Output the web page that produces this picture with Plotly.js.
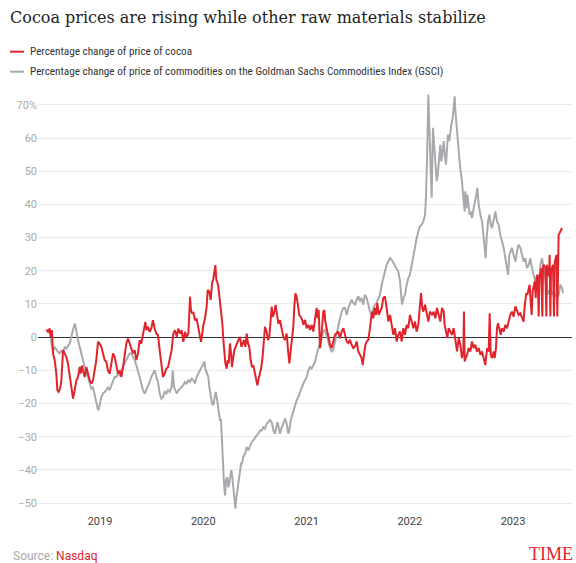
<!DOCTYPE html>
<html>
<head>
<meta charset="utf-8">
<script src="https://cdn.plot.ly/plotly-3.0.1.min.js"></script>
<style>
  html, body { margin: 0; padding: 0; background: #fff; }
  #chart { width: 576px; height: 563px; }
</style>
</head>
<body>
<div id="chart"></div>
<script>
// ---- Data (decimal years, % change) ----
const cocoaX = [
  2018.480,2018.496,2018.513,2018.522,2018.535,2018.545,2018.561,2018.577,2018.587,2018.600,2018.613,2018.626,2018.642,2018.658,2018.674,2018.690,2018.706,2018.722,2018.739,2018.755,2018.771,2018.787,2018.803,2018.813,2018.826,2018.835,2018.852,2018.868,2018.884,2018.900,2018.916,2018.932,2018.948,2018.964,2018.981,2018.997,
  2019.013,2019.029,2019.045,2019.061,2019.077,2019.094,2019.110,2019.126,2019.142,2019.158,2019.174,2019.190,2019.207,2019.223,2019.239,2019.255,2019.271,2019.287,2019.303,2019.320,2019.336,2019.352,2019.368,2019.384,2019.400,2019.416,2019.433,2019.439,2019.449,2019.465,2019.481,2019.497,2019.513,2019.529,2019.546,2019.562,2019.578,2019.594,2019.610,2019.626,2019.642,2019.659,2019.675,
  2019.694,2019.710,2019.726,2019.743,2019.759,2019.775,2019.791,2019.807,2019.823,2019.839,2019.856,2019.865,2019.872,2019.881,2019.894,2019.904,2019.920,2019.936,2019.952,2019.969,2019.978,2019.991,
  2020.001,2020.017,2020.033,2020.043,2020.059,2020.072,2020.085,2020.098,2020.107,2020.117,2020.127,2020.136,2020.146,2020.162,2020.172,2020.185,2020.195,2020.204,2020.214,2020.227,2020.237,2020.246,2020.259,2020.269,2020.278,2020.291,2020.301,2020.314,2020.324,2020.340,2020.356,2020.369,2020.382,2020.395,2020.408,2020.421,2020.433,2020.446,2020.459,2020.472,2020.485,2020.501,2020.511,2020.524,2020.537,2020.550,2020.563,2020.575,2020.588,2020.598,2020.614,2020.627,2020.640,2020.653,2020.663,2020.672,2020.685,2020.701,2020.711,2020.727,2020.743,2020.760,2020.776,2020.792,2020.808,2020.821,2020.834,2020.847,2020.860,2020.872,2020.882,2020.892,2020.905,2020.918,2020.931,2020.944,2020.960,
  2020.969,2020.986,2021.002,2021.018,2021.034,2021.050,2021.066,2021.082,2021.098,2021.108,2021.118,2021.131,2021.140,2021.150,2021.163,2021.173,2021.182,2021.195,2021.211,2021.228,2021.244,2021.260,2021.276,2021.292,2021.308,2021.324,2021.341,2021.357,2021.373,2021.389,2021.405,2021.421,2021.437,2021.454,2021.470,2021.486,2021.502,2021.518,2021.534,2021.544,2021.557,2021.570,2021.583,2021.599,2021.615,2021.625,2021.634,2021.647,2021.660,2021.673,2021.686,2021.699,2021.712,2021.728,2021.744,2021.760,2021.776,2021.793,2021.809,2021.825,2021.841,2021.857,2021.873,2021.889,2021.906,2021.922,2021.938,2021.954,2021.970,2021.986,
  2022.002,2022.019,2022.035,2022.051,2022.067,2022.083,2022.099,2022.109,2022.122,2022.132,2022.148,2022.164,2022.180,2022.196,
  2022.216,2022.232,2022.248,2022.264,2022.280,2022.296,2022.312,2022.329,2022.338,2022.351,2022.364,2022.377,2022.393,2022.409,2022.425,2022.442,2022.458,2022.474,2022.490,2022.506,2022.519,2022.525,2022.532,2022.542,2022.555,2022.571,2022.587,2022.603,2022.619,2022.635,2022.651,2022.668,2022.684,2022.700,2022.716,2022.732,2022.742,2022.751,2022.764,2022.774,2022.784,2022.797,2022.813,2022.822,2022.835,2022.845,2022.855,2022.868,2022.881,2022.893,2022.910,2022.926,2022.942,2022.958,2022.974,2022.990,
  2023.006,2023.023,2023.039,2023.055,2023.071,2023.087,2023.103,2023.113,2023.119,2023.129,2023.139,2023.152,2023.161,2023.171,2023.181,2023.190,2023.200,2023.210,2023.220,2023.229,2023.239,2023.249,2023.255,2023.265,2023.274,2023.284,2023.291,2023.300,2023.313,2023.323,2023.329,2023.339,2023.349,2023.355,2023.362,2023.368,2023.378,2023.387,2023.397,2023.404,2023.413,2023.423,2023.429,2023.436,2023.442,2023.452,2023.462,2023.475
];
const cocoaPct = [
  2.3,1.6,2.6,0.1,2.1,-4.9,-6.9,-11.0,-16.0,-16.5,-15.5,-13.0,-3.9,-4.9,-5.9,-8.0,-11.0,-15.0,-18.5,-16.0,-13.0,-12.0,-9.0,-11.0,-8.5,-10.0,-12.0,-9.0,-11.0,-13.0,-14.0,-13.0,-10.0,-6.9,-1.4,-1.9,
  -2.9,-4.9,-6.9,-7.4,-10.0,-11.0,-7.9,-4.9,-5.9,-9.0,-11.0,-10.0,-12.0,-9.0,-5.9,-1.9,-0.4,-1.9,-3.4,-4.9,-3.9,-6.9,-4.9,-0.9,-1.9,1.1,4.1,4.6,2.1,3.1,1.6,2.6,5.1,2.6,1.1,0.6,-3.9,-7.9,-12.0,-11.0,-9.5,-9.0,-6.9,
  -3.9,1.1,2.1,0.1,2.6,1.1,2.1,-1.4,1.6,0.1,1.1,7.1,12.2,8.1,7.1,7.6,5.1,5.6,3.1,0.1,-1.4,1.1,
  3.6,5.6,9.2,14.2,13.7,11.2,16.2,17.7,19.2,21.7,17.2,16.7,15.2,11.2,7.1,4.1,-0.9,-3.9,-7.9,-9.5,-6.9,-7.9,-1.9,-4.9,-9.0,-5.9,-3.9,-2.9,-1.9,-0.9,0.1,-2.9,-1.9,-0.9,-2.9,1.1,-1.9,-2.9,-6.9,-9.0,-8.5,-11.0,-13.0,-14.5,-12.5,-11.0,-9.0,-5.9,-1.9,3.1,1.6,-0.9,0.1,7.1,9.2,6.1,7.1,9.7,7.1,4.1,5.1,2.1,0.1,-0.9,1.1,-3.9,-7.9,-3.9,-0.9,3.1,9.2,13.2,12.2,9.2,6.6,6.1,5.1,
  3.7,5.2,2.7,3.7,2.2,3.7,1.7,4.7,8.8,5.7,8.2,-3.3,-1.3,2.7,7.7,8.2,4.7,2.7,-0.3,-2.3,-3.3,-1.3,0.7,1.2,1.7,-0.3,1.7,2.7,0.7,-1.3,-1.8,-0.8,-2.3,-3.3,-2.8,-1.3,-4.3,-5.3,-6.3,-8.4,-4.3,-2.3,-1.3,-0.8,2.7,6.7,7.7,5.7,8.8,6.7,10.3,6.7,7.7,8.8,11.8,12.3,8.8,4.7,6.7,3.7,0.7,2.7,-1.3,0.7,1.7,-1.3,2.7,0.7,3.7,2.7,
  6.7,4.7,2.7,4.7,1.7,3.7,10.8,13.3,8.8,7.7,9.8,6.7,4.7,7.7,
  6.7,7.7,5.7,8.8,6.7,4.7,8.8,7.7,3.7,1.7,-0.3,2.7,1.7,0.7,2.7,-1.3,-4.3,-0.3,-2.3,-6.3,-4.3,7.7,-7.3,-6.3,-5.3,-3.3,-4.3,-1.3,-3.3,-2.3,-4.3,-3.3,-5.3,-4.3,-6.3,-8.4,-5.3,-3.3,-4.3,7.2,-5.3,-6.3,-4.3,-6.3,-3.3,2.7,4.2,2.7,0.7,2.7,1.7,3.7,2.7,4.7,6.7,7.7,
  6.2,9.3,7.7,6.7,7.2,5.7,4.7,9.3,11.8,13.3,12.8,14.8,15.8,10.8,6.7,13.8,15.8,16.8,11.8,18.3,18.8,6.2,17.8,19.8,20.8,6.2,21.3,21.8,20.8,6.2,21.8,20.3,18.3,24.8,6.2,19.8,20.8,21.8,6.2,22.3,23.8,24.8,6.2,28.9,30.9,31.4,31.9,32.9
];

const gsciX = [
  2018.522,2018.535,2018.545,2018.561,2018.577,2018.593,2018.609,2018.626,2018.642,2018.658,2018.674,2018.690,2018.706,2018.722,2018.739,2018.755,2018.764,2018.777,2018.787,2018.803,2018.819,2018.835,2018.852,2018.868,2018.884,2018.900,2018.916,2018.932,2018.948,2018.964,2018.981,2018.990,
  2019.003,2019.013,2019.029,2019.045,2019.061,2019.077,2019.094,2019.110,2019.126,2019.142,2019.158,2019.174,2019.190,2019.207,2019.223,2019.239,2019.255,2019.271,2019.287,2019.303,2019.320,2019.336,2019.352,2019.368,2019.384,2019.400,2019.416,2019.433,2019.449,2019.465,2019.481,2019.497,2019.513,2019.529,2019.546,2019.562,2019.578,2019.594,2019.610,2019.626,2019.642,2019.659,2019.675,
  2019.694,2019.704,2019.717,2019.730,2019.743,2019.759,2019.775,2019.791,2019.807,2019.823,2019.839,2019.856,2019.872,2019.888,2019.904,2019.920,2019.936,2019.952,2019.969,2019.985,
  2020.001,2020.011,2020.020,2020.033,2020.049,2020.059,2020.072,2020.085,2020.098,2020.107,2020.120,2020.130,2020.140,2020.153,2020.162,2020.172,2020.182,2020.191,2020.201,2020.211,2020.220,2020.233,2020.243,2020.259,2020.272,2020.282,2020.291,2020.301,2020.311,2020.320,2020.330,2020.340,2020.356,2020.366,2020.375,2020.388,2020.404,2020.421,2020.437,2020.453,2020.469,2020.485,2020.501,2020.517,2020.533,2020.550,2020.566,2020.582,2020.598,2020.614,2020.630,2020.646,2020.663,2020.679,2020.695,2020.705,2020.718,2020.730,2020.743,2020.760,2020.776,2020.792,2020.808,2020.824,2020.834,2020.847,2020.860,2020.872,2020.889,2020.905,2020.921,2020.937,2020.953,2020.969,2020.986,
  2021.002,2021.018,2021.034,2021.050,2021.066,2021.082,2021.098,2021.115,2021.131,2021.147,2021.163,2021.179,2021.195,2021.211,2021.228,2021.244,2021.260,2021.276,2021.292,2021.308,2021.324,2021.341,2021.357,2021.373,2021.389,2021.405,2021.421,2021.437,2021.454,2021.470,2021.486,2021.502,2021.518,2021.534,2021.550,2021.566,2021.583,2021.599,2021.615,2021.631,2021.647,2021.663,2021.679,2021.696,2021.712,2021.728,2021.744,2021.760,2021.776,2021.793,2021.809,2021.825,2021.841,2021.857,2021.873,2021.889,2021.906,2021.915,2021.925,2021.938,2021.954,2021.970,2021.986,
  2022.002,2022.019,2022.035,2022.051,2022.067,2022.083,2022.099,2022.115,2022.132,2022.148,2022.157,2022.167,2022.174,2022.180,2022.186,2022.196,2022.203,2022.212,
  2022.225,2022.235,2022.248,2022.261,2022.274,2022.287,2022.296,2022.306,2022.319,2022.329,2022.338,2022.351,2022.361,2022.371,2022.383,2022.393,2022.403,2022.416,2022.425,2022.435,2022.442,2022.451,2022.461,2022.474,2022.483,2022.493,2022.506,2022.516,2022.525,2022.532,2022.538,2022.548,2022.558,2022.571,2022.580,2022.590,2022.603,2022.619,2022.635,2022.645,2022.655,2022.668,2022.684,2022.700,2022.716,2022.726,2022.735,2022.745,2022.758,2022.771,2022.784,2022.797,2022.813,2022.829,2022.845,2022.861,2022.877,2022.893,2022.910,2022.926,2022.942,2022.952,2022.965,2022.977,2022.990,
  2023.006,2023.023,2023.039,2023.055,2023.071,2023.087,2023.103,2023.119,2023.136,2023.152,2023.168,2023.184,2023.200,2023.216,2023.232,2023.249,2023.265,2023.281,2023.297,2023.313,2023.329,2023.345,2023.362,2023.378,2023.394,2023.410,2023.426,2023.442,2023.458,2023.475,2023.484
];
const gsciPct = [
  -0.4,-2.9,-4.4,-2.9,-3.9,-4.4,-4.9,-3.9,-4.9,-2.9,-3.4,-2.4,-1.9,0.1,2.1,4.1,3.1,0.6,-0.9,-2.9,-4.9,-6.9,-9.0,-11.0,-12.0,-14.0,-15.5,-15.0,-17.0,-19.0,-22.0,-21.5,
  -19.5,-18.0,-17.0,-16.5,-16.0,-15.0,-16.0,-14.5,-13.0,-12.0,-12.0,-11.0,-11.5,-10.0,-9.0,-7.9,-6.9,-5.9,-4.9,-4.9,-5.9,-6.9,-8.5,-10.0,-12.0,-14.0,-16.0,-17.0,-16.0,-14.5,-13.5,-12.0,-11.0,-10.0,-12.0,-13.5,-17.0,-18.5,-18.0,-16.5,-17.0,-16.0,-16.5,
  -15.0,-10.0,-15.0,-16.0,-17.0,-16.0,-15.5,-15.0,-14.5,-13.5,-14.0,-13.0,-13.5,-12.5,-13.0,-14.0,-12.0,-11.0,-10.0,-9.0,
  -7.9,-7.4,-9.5,-11.0,-12.0,-15.0,-18.0,-20.0,-20.5,-19.0,-16.5,-18.0,-20.0,-23.0,-25.0,-25.0,-33.1,-39.1,-44.2,-47.7,-43.2,-42.2,-45.3,-42.7,-40.1,-42.2,-45.7,-49.2,-51.7,-48.7,-46.2,-44.2,-41.1,-38.1,-38.1,-36.1,-35.1,-33.1,-34.1,-32.6,-31.6,-31.1,-30.1,-29.6,-29.1,-28.1,-28.1,-27.1,-27.6,-26.1,-25.6,-25.0,-25.6,-28.1,-29.1,-27.1,-25.6,-27.1,-29.1,-27.1,-26.1,-24.5,-26.1,-29.1,-28.1,-25.0,-23.5,-22.0,-20.5,-19.0,-18.0,-16.5,-15.0,-14.0,-13.0,
  -12.0,-10.0,-9.0,-9.5,-8.5,-7.5,-5.3,-3.3,-1.3,0.7,1.7,2.2,0.7,-1.3,-3.3,-4.3,-3.8,-1.3,0.7,2.7,5.7,7.7,8.8,8.8,6.7,8.8,10.3,11.3,10.3,9.8,11.3,12.3,10.8,11.8,9.8,12.8,11.8,9.8,7.7,6.7,8.8,9.8,10.3,11.8,12.8,15.8,17.8,19.8,21.8,22.8,23.8,23.3,22.3,21.8,20.8,19.8,16.8,12.8,9.8,11.8,12.8,15.8,17.8,
  18.8,21.8,24.8,26.9,29.9,31.9,33.4,33.9,34.9,36.9,42.0,53.0,63.1,73.1,67.1,58.0,48.0,42.0,
  63.1,58.0,53.0,47.0,50.0,56.0,58.0,53.0,56.0,59.1,55.0,52.0,57.0,61.1,59.1,62.1,64.1,66.1,69.1,72.6,68.1,64.1,60.1,56.0,53.0,50.0,47.0,43.0,39.9,37.9,44.0,38.9,43.0,38.9,36.9,37.9,35.9,38.9,40.9,43.0,45.0,39.9,36.9,34.9,29.9,25.9,23.8,29.9,34.9,36.9,33.9,32.9,35.9,37.9,34.9,33.9,30.9,28.9,26.9,23.8,19.8,18.8,24.8,25.9,26.9,
  24.8,22.8,25.9,27.9,26.9,24.8,22.8,23.8,20.8,21.8,23.8,20.8,18.8,16.8,14.8,13.8,21.8,23.8,20.8,16.8,14.8,12.8,14.8,12.8,13.8,12.8,11.8,12.8,15.8,14.8,13.3
];

const yearTicks = [2019, 2020, 2021, 2022, 2023];
const yearLabels = ['2019', '2020', '2021', '2022', '2023'];
const pctTicks = [-50, -40, -30, -20, -10, 0, 10, 20, 30, 40, 50, 60, 70];
const pctLabels = ['\u221250', '\u221240', '\u221230', '\u221220', '\u221210', '0', '10', '20', '30', '40', '50', '60', '70%'];

const cocoaName = 'Percentage change of price of cocoa';
const gsciName = 'Percentage change of price of commodities on the Goldman Sachs Commodities Index (GSCI)';

// ---- Style ----
const RED = '#e0242b';
const GRAY = '#a8a9ad';
const W = 576, H = 563;
const M = { l: 38, r: 4, t: 90, b: 50 };
const plotW = W - M.l - M.r, plotH = H - M.t - M.b;
const px = x => (x - M.l) / plotW;           // page px -> paper x
const py = y => (H - M.b - y) / plotH;       // page px -> paper y

const legendFont = { family: 'Roboto Condensed, Liberation Sans Narrow, DejaVu Sans Condensed, Roboto, sans-serif', size: 11.2, color: '#333' };

const traces = [
  { x: gsciX, y: gsciPct, type: 'scatter', mode: 'lines', name: gsciName,
    line: { color: GRAY, width: 2 }, hoverinfo: 'skip' },
  { x: cocoaX, y: cocoaPct, type: 'scatter', mode: 'lines', name: cocoaName,
    line: { color: RED, width: 2 }, hoverinfo: 'skip' }
];

const layout = {
  width: W, height: H,
  margin: M,
  paper_bgcolor: '#fff', plot_bgcolor: '#fff',
  showlegend: false,
  font: { family: 'Roboto, sans-serif' },
  title: {
    text: 'Cocoa prices are rising while other raw materials stabilize',
    font: { family: 'DejaVu Serif, serif', size: 16, color: '#1e1e1e' },
    xref: 'container', yref: 'container', x: 10 / W, xanchor: 'left',
    y: 1 - 17 / H, yanchor: 'middle'
  },
  xaxis: {
    type: 'linear', range: [2018.3995, 2023.5714],
    tickvals: yearTicks, ticktext: yearLabels,
    showgrid: false, zeroline: false, showline: false, ticks: '',
    tickfont: { family: 'Roboto, sans-serif', size: 11, color: '#444' },
    fixedrange: true
  },
  yaxis: {
    range: [-53, 74.5],
    tickvals: pctTicks, ticktext: pctLabels,
    showgrid: true, gridcolor: '#ebebeb', gridwidth: 1,
    zeroline: true, zerolinecolor: '#333', zerolinewidth: 1,
    showline: false, ticks: '',
    tickfont: { family: 'Roboto, sans-serif', size: 11, color: '#aaa' },
    fixedrange: true
  },
  shapes: [
    { type: 'line', xref: 'paper', yref: 'paper', x0: px(10), x1: px(24), y0: py(51.7), y1: py(51.7), line: { color: RED, width: 2 } },
    { type: 'line', xref: 'paper', yref: 'paper', x0: px(10), x1: px(24), y0: py(71.7), y1: py(71.7), line: { color: GRAY, width: 2 } }
  ],
  annotations: [
    { xref: 'paper', yref: 'paper', x: px(28), y: py(51.7), xanchor: 'left', yanchor: 'middle', showarrow: false, text: cocoaName, font: legendFont },
    { xref: 'paper', yref: 'paper', x: px(28), y: py(71.7), xanchor: 'left', yanchor: 'middle', showarrow: false, text: gsciName, font: legendFont },
    { xref: 'paper', yref: 'paper', x: px(11), y: py(556), xanchor: 'left', yanchor: 'middle', showarrow: false,
      text: 'Source: <span style="color:' + RED + '">Nasdaq</span>', font: { family: 'Roboto, sans-serif', size: 12, color: '#aaa' } },
    { xref: 'paper', yref: 'paper', x: px(575), y: py(554), xanchor: 'right', yanchor: 'middle', showarrow: false,
      text: 'TIME', font: { family: 'Liberation Serif, serif', size: 18, color: RED } }
  ]
};

Plotly.newPlot('chart', traces, layout, { displayModeBar: false, staticPlot: true });
</script>
</body>
</html>
